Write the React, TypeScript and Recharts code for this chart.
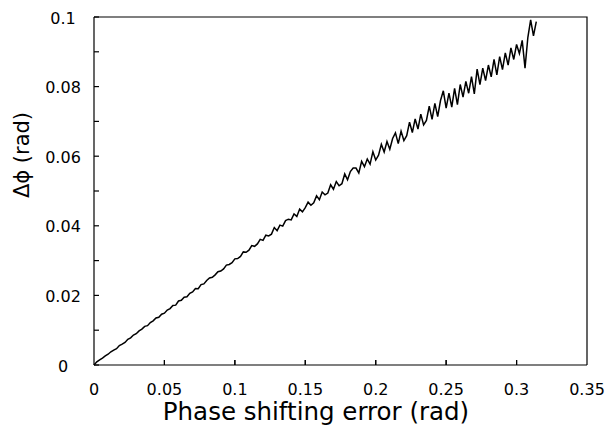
import { LineChart, Line, XAxis, YAxis } from "recharts";

// phase shifting error (rad), sampled every 0.002
const errorRad = [
  0, 0.002, 0.004, 0.006, 0.008, 0.01, 0.012, 0.014, 0.016, 0.018,
  0.02, 0.022, 0.024, 0.026, 0.028, 0.03, 0.032, 0.034, 0.036, 0.038,
  0.04, 0.042, 0.044, 0.046, 0.048, 0.05, 0.052, 0.054, 0.056, 0.058,
  0.06, 0.062, 0.064, 0.066, 0.068, 0.07, 0.072, 0.074, 0.076, 0.078,
  0.08, 0.082, 0.084, 0.086, 0.088, 0.09, 0.092, 0.094, 0.096, 0.098,
  0.1, 0.102, 0.104, 0.106, 0.108, 0.11, 0.112, 0.114, 0.116, 0.118,
  0.12, 0.122, 0.124, 0.126, 0.128, 0.13, 0.132, 0.134, 0.136, 0.138,
  0.14, 0.142, 0.144, 0.146, 0.148, 0.15, 0.152, 0.154, 0.156, 0.158,
  0.16, 0.162, 0.164, 0.166, 0.168, 0.17, 0.172, 0.174, 0.176, 0.178,
  0.18, 0.182, 0.184, 0.186, 0.188, 0.19, 0.192, 0.194, 0.196, 0.198,
  0.2, 0.202, 0.204, 0.206, 0.208, 0.21, 0.212, 0.214, 0.216, 0.218,
  0.22, 0.222, 0.224, 0.226, 0.228, 0.23, 0.232, 0.234, 0.236, 0.238,
  0.24, 0.242, 0.244, 0.246, 0.248, 0.25, 0.252, 0.254, 0.256, 0.258,
  0.26, 0.262, 0.264, 0.266, 0.268, 0.27, 0.272, 0.274, 0.276, 0.278,
  0.28, 0.282, 0.284, 0.286, 0.288, 0.29, 0.292, 0.294, 0.296, 0.298,
  0.3, 0.302, 0.304, 0.306, 0.308, 0.31, 0.312, 0.314,
];

// delta phi (rad)
const deltaPhi = [
  0, 0.0009, 0.0015, 0.002, 0.0026, 0.0031, 0.0038, 0.0043, 0.0047, 0.0056,
  0.006, 0.0065, 0.0074, 0.0078, 0.0086, 0.009, 0.0098, 0.0103, 0.0111, 0.0113,
  0.0122, 0.0127, 0.0135, 0.0137, 0.0146, 0.0149, 0.0158, 0.0162, 0.0171, 0.0172,
  0.0184, 0.0186, 0.0195, 0.0196, 0.0206, 0.021, 0.022, 0.0219, 0.0231, 0.0233,
  0.0243, 0.025, 0.0252, 0.0259, 0.0268, 0.027, 0.0276, 0.0287, 0.0289, 0.0294,
  0.0305, 0.0306, 0.0312, 0.0325, 0.0324, 0.033, 0.0343, 0.0341, 0.0348, 0.0361,
  0.0358, 0.0373, 0.0371, 0.0376, 0.0395, 0.0386, 0.0402, 0.0399, 0.0415, 0.0419,
  0.0417, 0.0434, 0.0427, 0.0448, 0.044, 0.0452, 0.0468, 0.0459, 0.0466, 0.0486,
  0.0475, 0.0497, 0.0489, 0.0494, 0.0518, 0.0505, 0.0527, 0.0515, 0.0521, 0.0549,
  0.0532, 0.0556, 0.0566, 0.0566, 0.0552, 0.0585, 0.057, 0.0592, 0.0577, 0.0613,
  0.0589, 0.0603, 0.0634, 0.0612, 0.0642, 0.062, 0.0651, 0.0667, 0.0636, 0.0672,
  0.0645, 0.0659, 0.0698, 0.0668, 0.0707, 0.0678, 0.0721, 0.069, 0.0703, 0.0744,
  0.0706, 0.0752, 0.0714, 0.076, 0.0788, 0.0738, 0.0781, 0.0741, 0.0795, 0.0748,
  0.0806, 0.077, 0.0815, 0.0781, 0.0829, 0.0779, 0.085, 0.0806, 0.0853, 0.0817,
  0.0862, 0.0828, 0.0878, 0.0834, 0.0886, 0.0849, 0.0897, 0.0862, 0.0911, 0.0878,
  0.0921, 0.0895, 0.0933, 0.0853, 0.0941, 0.0992, 0.0946, 0.0987,
];

const xTicks = [0, 0.05, 0.1, 0.15, 0.2, 0.25, 0.3, 0.35];
const yTicks = [0, 0.01, 0.02, 0.03, 0.04, 0.05, 0.06, 0.07, 0.08, 0.09, 0.1];
const yLabelled = [0, 0.02, 0.04, 0.06, 0.08, 0.1];

const data = errorRad.map((x, i) => ({ x, y: deltaPhi[i] }));

const FONT = "DejaVu Sans";
const PLOT_LEFT = 94;
const PLOT_TOP = 17;
const PLOT_RIGHT = 587;
const PLOT_BOTTOM = 365;
const X_MAX = 0.35;

function XTick(props: any) {
  const { x, payload } = props;
  const v = Number(payload.value);
  return (
    <g>
      {v > 0 && v < X_MAX && (
        <line x1={x} y1={PLOT_BOTTOM} x2={x} y2={PLOT_BOTTOM - 5} stroke="#000" strokeWidth={1.2} />
      )}
      <text x={x} y={395} textAnchor="middle" fontFamily={FONT} fontSize={16} fill="#000">
        {payload.value}
      </text>
    </g>
  );
}

function YTick(props: any) {
  const { y, payload } = props;
  const v = Number(payload.value);
  const show = yLabelled.some((t) => Math.abs(t - v) < 1e-9);
  return (
    <g>
      <line x1={PLOT_LEFT} y1={y} x2={PLOT_LEFT + 5} y2={y} stroke="#000" strokeWidth={1.2} />
      {show && (
        <text x={63} y={y + 6.5} textAnchor="middle" fontFamily={FONT} fontSize={16} fill="#000">
          {payload.value}
        </text>
      )}
    </g>
  );
}

// frame, inward x ticks and axis titles, laid over the chart
function Overlay() {
  const w = PLOT_RIGHT - PLOT_LEFT;
  return (
    <svg
      width={608}
      height={435}
      style={{ position: "absolute", left: 0, top: 0, pointerEvents: "none" }}
    >
      <path
        d={`M${PLOT_LEFT},${PLOT_TOP}H${PLOT_RIGHT}V${PLOT_BOTTOM}`}
        fill="none"
        stroke="#000"
        strokeWidth={1.2}
      />
      {xTicks.slice(1, -1).map((t) => {
        const tx = PLOT_LEFT + (t / X_MAX) * w;
        return <line key={t} x1={tx} y1={PLOT_BOTTOM} x2={tx} y2={PLOT_BOTTOM - 5} stroke="#000" strokeWidth={1.2} />;
      })}
      <text x={316} y={420} textAnchor="middle" fontFamily={FONT} fontSize={24.5} fill="#000">
        Phase shifting error (rad)
      </text>
      <text
        x={0}
        y={0}
        transform="translate(29,155) rotate(-90)"
        textAnchor="middle"
        fontFamily={FONT}
        fontSize={21}
        fill="#000"
      >
        Δϕ (rad)
      </text>
    </svg>
  );
}

export default function App() {
  return (
    <div style={{ position: "absolute", left: 0, top: 0, width: 608, height: 435, background: "#fff" }}>
      <LineChart width={608} height={435} data={data} margin={{ top: 17, right: 21, bottom: 30, left: 0 }}>
        <XAxis
          dataKey="x"
          type="number"
          domain={[0, X_MAX]}
          ticks={xTicks}
          tickLine={false}
          tick={<XTick />}
          axisLine={{ stroke: "#000", strokeWidth: 1.2 }}
          height={40}
          interval={0}
        />
        <YAxis
          type="number"
          domain={[0, 0.1]}
          ticks={yTicks}
          tickLine={false}
          tick={<YTick />}
          axisLine={{ stroke: "#000", strokeWidth: 1.2 }}
          width={94}
          interval={0}
        />
        <Line
          dataKey="y"
          type="linear"
          stroke="#000"
          strokeWidth={1.5}
          dot={false}
          isAnimationActive={false}
        />
      </LineChart>
      <Overlay />
    </div>
  );
}
